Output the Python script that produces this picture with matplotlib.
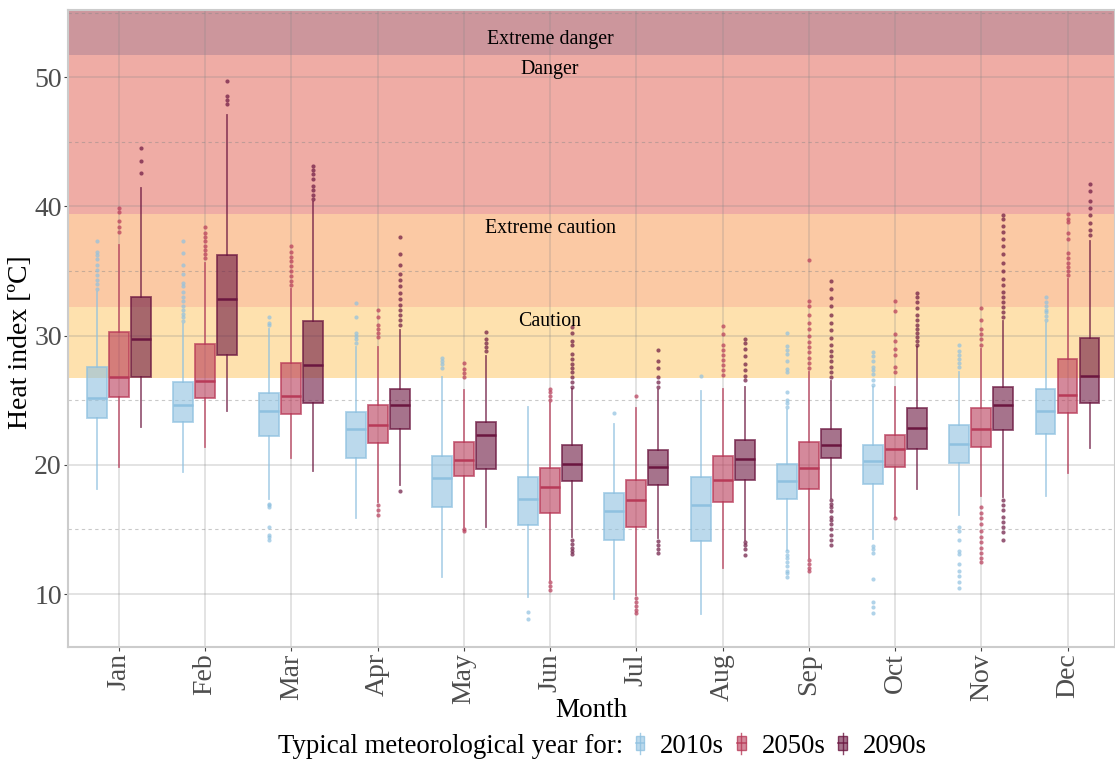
import matplotlib
matplotlib.use("Agg")
import matplotlib.pyplot as plt
from matplotlib.patches import Patch, Rectangle
from matplotlib.lines import Line2D
from matplotlib.legend_handler import HandlerBase
import matplotlib.colors as mcolors

plt.rcParams["font.family"] = ["Liberation Serif", "DejaVu Serif"]

months = ["Jan", "Feb", "Mar", "Apr", "May", "Jun", "Jul", "Aug", "Sep", "Oct", "Nov", "Dec"]
groups = ["2010s", "2050s", "2090s"]

# box stats per group: whisker low, q1, median, q3, whisker high
lo_2010 = [18.1, 19.45, 17.35, 15.9, 11.35, 9.8, 9.6, 8.45, 13.4, 14.25, 16.1, 17.6]
q1_2010 = [23.65, 23.35, 22.2, 20.5, 16.7, 15.35, 14.2, 14.1, 17.35, 18.5, 20.15, 22.35]
med_2010 = [25.15, 24.65, 24.15, 22.75, 19.0, 17.35, 16.45, 16.9, 18.75, 20.3, 21.6, 24.2]
q3_2010 = [27.55, 26.4, 25.55, 24.05, 20.7, 19.05, 17.85, 19.05, 20.05, 21.55, 23.05, 25.85]
hi_2010 = [33.4, 30.9, 30.5, 29.1, 26.8, 24.45, 23.15, 25.7, 24.25, 26.0, 27.2, 31.0]
out_2010 = [
    [33.6, 34.0, 34.3, 34.7, 35.1, 35.5, 35.9, 36.2, 36.5, 37.3],
    [31.1, 31.4, 31.7, 32.0, 32.3, 32.7, 33.0, 33.4, 33.8, 34.1, 34.8, 35.5, 36.4, 37.3],
    [30.8, 31.0, 31.4, 17.0, 16.9, 16.7, 15.2, 14.6, 14.4, 14.2],
    [29.4, 29.7, 30.0, 30.2, 31.4, 32.5],
    [27.5, 27.8, 28.0, 28.3],
    [8.6, 8.1],
    [24.0],
    [26.9],
    [24.5, 24.8, 25.0, 25.6, 27.2, 27.4, 28.0, 28.6, 28.9, 29.2, 30.2,
     13.3, 13.0, 12.8, 12.5, 12.2, 11.8, 11.6, 11.35],
    [26.15, 26.6, 27.0, 27.3, 27.6, 28.0, 28.4, 28.75, 13.7, 13.5, 13.2, 11.2, 9.4, 9.0, 8.5],
    [27.6, 27.9, 28.2, 28.5, 28.8, 29.3, 15.2, 14.9, 14.2, 13.3, 13.1, 12.35, 11.8, 11.4, 10.9, 10.45],
    [31.2, 31.5, 31.8, 32.0, 32.3, 32.6, 33.0],
]

lo_2050 = [19.85, 21.4, 20.55, 17.15, 15.2, 11.1, 9.95, 12.0, 12.8, 16.0, 17.6, 19.4]
q1_2050 = [25.25, 25.15, 23.95, 21.65, 19.1, 16.3, 15.2, 17.15, 18.1, 19.8, 21.4, 24.0]
med_2050 = [26.8, 26.5, 25.35, 23.05, 20.35, 18.3, 17.25, 18.85, 19.75, 21.2, 22.8, 25.4]
q3_2050 = [30.3, 29.35, 27.85, 24.6, 21.75, 19.75, 18.85, 20.65, 21.75, 22.3, 24.4, 28.15]
hi_2050 = [37.0, 35.6, 33.6, 29.1, 25.8, 24.8, 24.4, 25.85, 27.2, 26.0, 29.0, 34.4]
out_2050 = [
    [38.0, 38.4, 38.9, 39.6, 39.85],
    [36.0, 36.3, 36.6, 36.9, 37.3, 37.6, 37.9, 38.4],
    [33.9, 34.2, 34.6, 35.0, 35.4, 35.8, 36.1, 36.5, 36.9],
    [29.9, 30.2, 30.5, 30.8, 31.4, 32.0, 16.9, 16.5, 16.1],
    [15.0, 14.85, 26.8, 27.1, 27.4, 27.9],
    [10.9, 10.6, 10.3, 25.0, 25.3, 25.6, 25.9],
    [9.7, 9.4, 9.1, 8.8, 8.5, 25.3],
    [26.95, 27.3, 27.7, 28.1, 28.5, 28.9, 29.3, 30.1, 30.75],
    [12.6, 12.3, 12.0, 11.8, 27.5, 27.9, 28.3, 28.7, 29.1, 29.5, 30.0, 30.5, 31.0,
     31.6, 32.3, 32.7, 35.85],
    [15.9, 27.2, 27.6, 28.5, 29.0, 29.6, 30.1, 31.9, 32.7],
    [16.7, 16.3, 15.9, 15.4, 14.9, 14.4, 14.0, 13.6, 13.2, 12.8, 12.5,
     29.3, 29.7, 30.1, 30.5, 31.2, 32.1],
    [34.7, 35.0, 35.3, 35.6, 36.0, 36.4, 37.5, 37.9, 38.8, 39.0, 39.4],
]

lo_2090 = [22.95, 24.15, 19.55, 18.45, 15.15, 14.45, 14.3, 14.2, 17.4, 18.1, 17.5, 21.3]
q1_2090 = [26.8, 28.5, 24.8, 22.8, 19.7, 18.75, 18.4, 18.85, 20.5, 21.2, 22.7, 24.8]
med_2090 = [29.7, 32.85, 27.7, 24.65, 22.3, 20.05, 19.85, 20.45, 21.5, 22.85, 24.6, 26.85]
q3_2090 = [32.95, 36.2, 31.1, 25.85, 23.3, 21.55, 21.15, 21.95, 22.75, 24.4, 26.05, 29.85]
hi_2090 = [41.4, 47.05, 40.3, 30.45, 28.4, 25.9, 25.8, 26.05, 26.45, 29.1, 31.15, 37.35]
out_2090 = [
    [42.6, 43.5, 44.5],
    [47.9, 48.2, 48.55, 49.7],
    [40.6, 40.9, 41.3, 41.6, 42.1, 42.5, 42.8, 43.1],
    [18.0, 30.8, 31.2, 31.6, 32.0, 32.4, 32.8, 33.3, 33.8, 34.3, 34.8, 35.5, 36.3, 37.6],
    [28.8, 29.1, 29.4, 29.7, 30.3],
    [14.2, 13.9, 13.6, 13.3, 13.1, 26.05, 26.4, 26.8, 27.2, 27.5, 27.8, 28.2, 28.6,
     29.3, 29.6, 30.2, 30.7],
    [14.1, 13.8, 13.5, 13.2, 26.05, 26.4, 26.8, 27.5, 28.0, 28.9],
    [14.05, 13.8, 13.5, 13.05, 26.6, 26.9, 27.3, 27.8, 28.4, 29.0, 29.4, 29.7],
    [17.3, 17.0, 16.7, 16.4, 16.0, 15.7, 15.4, 15.0, 14.6, 14.2, 13.8,
     26.8, 27.2, 27.6, 28.0, 28.4, 28.8, 29.3, 29.8, 30.4, 31.0, 31.6, 32.3, 32.9, 33.6, 34.2],
    [29.3, 29.6, 29.9, 30.2, 30.5, 30.8, 31.2, 31.6, 32.1, 32.6, 33.0, 33.3],
    [17.3, 16.9, 16.5, 16.0, 15.6, 15.2, 14.8, 14.2,
     31.4, 31.8, 32.2, 32.6, 33.0, 33.4, 33.9, 34.4, 35.0, 35.6, 36.3, 36.9, 37.5,
     38.0, 38.5, 39.0, 39.3],
    [37.8, 38.2, 38.7, 39.3, 39.9, 40.4, 41.2, 41.75],
]

# heat index categories (lower, upper bound in degC)
band_names = ["Caution", "Extreme caution", "Danger", "Extreme danger"]
band_lo = [26.7, 32.2, 39.4, 51.7]
band_hi = [32.2, 39.4, 51.7, 55.2]
band_colors = ["#fee1ae", "#fbc9a4", "#efaca5", "#cc969c"]
band_label_y = [31.1, 38.3, 50.6, 52.9]

group_colors = ["#8fc1e0", "#b83a58", "#6b1640"]

series = [
    (lo_2010, q1_2010, med_2010, q3_2010, hi_2010, out_2010),
    (lo_2050, q1_2050, med_2050, q3_2050, hi_2050, out_2050),
    (lo_2090, q1_2090, med_2090, q3_2090, hi_2090, out_2090),
]

fig = plt.figure(figsize=(11.15, 7.63), dpi=100)
ax = fig.add_axes([0.061, 0.152, 0.939, 0.835])

for lo, hi, c in zip(band_lo, band_hi, band_colors):
    ax.axhspan(lo, hi, color=c, zorder=0.2, lw=0)

for name, y in zip(band_names, band_label_y):
    ax.text(6, y, name, ha="center", va="center", fontsize=14.3, zorder=5)

offsets = [-0.255, 0.0, 0.255]
for g, (lo, q1, med, q3, hi, out) in enumerate(series):
    col = group_colors[g]
    stats = []
    for i in range(len(months)):
        stats.append({"whislo": lo[i], "q1": q1[i], "med": med[i], "q3": q3[i],
                      "whishi": hi[i], "fliers": out[i]})
    pos = [i + 1 + offsets[g] for i in range(len(months))]
    ax.bxp(stats, positions=pos, widths=0.23, patch_artist=True, showcaps=False,
           manage_ticks=False, zorder=3,
           boxprops=dict(facecolor=mcolors.to_rgba(col, 0.6), edgecolor=mcolors.to_rgba(col, 0.75), lw=1.3),
           medianprops=dict(color=col, lw=1.8),
           whiskerprops=dict(color=mcolors.to_rgba(col, 0.7), lw=1.3),
           flierprops=dict(marker="o", markersize=3, markerfacecolor=mcolors.to_rgba(col, 0.7),
                           markeredgecolor="none"))

ax.set_xlim(0.41, 12.55)
ax.set_ylim(5.9, 55.2)
ax.set_xticks(range(1, 13))
ax.set_xticklabels(months, rotation=90, fontsize=20)
ax.set_yticks([10, 20, 30, 40, 50])
ax.set_yticks([15, 25, 35, 45, 55], minor=True)
ax.tick_params(axis="y", labelsize=20, colors="#444444", length=3, pad=1.5, labelcolor="#4d4d4d")
ax.tick_params(axis="x", colors="#444444", length=3, pad=1.5, labelcolor="#4d4d4d")
ax.tick_params(axis="y", which="minor", length=0)
ax.set_axisbelow(True)
ax.grid(axis="y", which="major", color="#888888", alpha=0.3, lw=1.1)
ax.grid(axis="y", which="minor", color="#888888", alpha=0.45, lw=0.8, ls=(0, (3, 3)))
ax.grid(axis="x", which="major", color="#888888", alpha=0.3, lw=1.1)
for s in ax.spines.values():
    s.set_color("#cccccc")
    s.set_linewidth(1.5)

ax.set_ylabel("Heat index [ºC]", fontsize=20, va="center")
ax.yaxis.set_label_coords(-0.045, 0.478)
ax.set_xlabel("Month", fontsize=19.5, va="center")
ax.xaxis.set_label_coords(0.5, -0.1)


class BoxHandler(HandlerBase):
    def create_artists(self, legend, orig_handle, xdescent, ydescent, width, height, fontsize, trans):
        x0 = -xdescent
        y0 = -ydescent
        cx = x0 + width / 2
        bw = width * 0.8
        c = orig_handle.get_edgecolor()
        r = Rectangle((cx - bw / 2, y0 + height * 0.1), bw, height * 0.8,
                      facecolor=orig_handle.get_facecolor(), edgecolor=c,
                      lw=1.0, transform=trans)
        w = Line2D([cx, cx], [y0 - height * 0.1, y0 + height * 1.1], color=c, lw=1.0, transform=trans)
        m = Line2D([cx - bw / 2, cx + bw / 2], [y0 + height * 0.5] * 2, color=c, lw=1.2, transform=trans)
        return [w, r, m]


handles = [Patch(facecolor=mcolors.to_rgba(c, 0.6), edgecolor=mcolors.to_rgba(c, 0.8), label=g)
           for c, g in zip(group_colors, groups)]
fig.text(0.249, 0.022, "Typical meteorological year for:", fontsize=19.3, va="center")
fig.legend(handles=handles, loc="center left", bbox_to_anchor=(0.569, 0.022), ncol=3, frameon=False,
           fontsize=19.3, handlelength=0.4, handleheight=0.65, handletextpad=0.55, columnspacing=0.45,
           borderpad=0.0, borderaxespad=0.0, handler_map={Patch: BoxHandler()})

fig.savefig("out.png", dpi=100)
